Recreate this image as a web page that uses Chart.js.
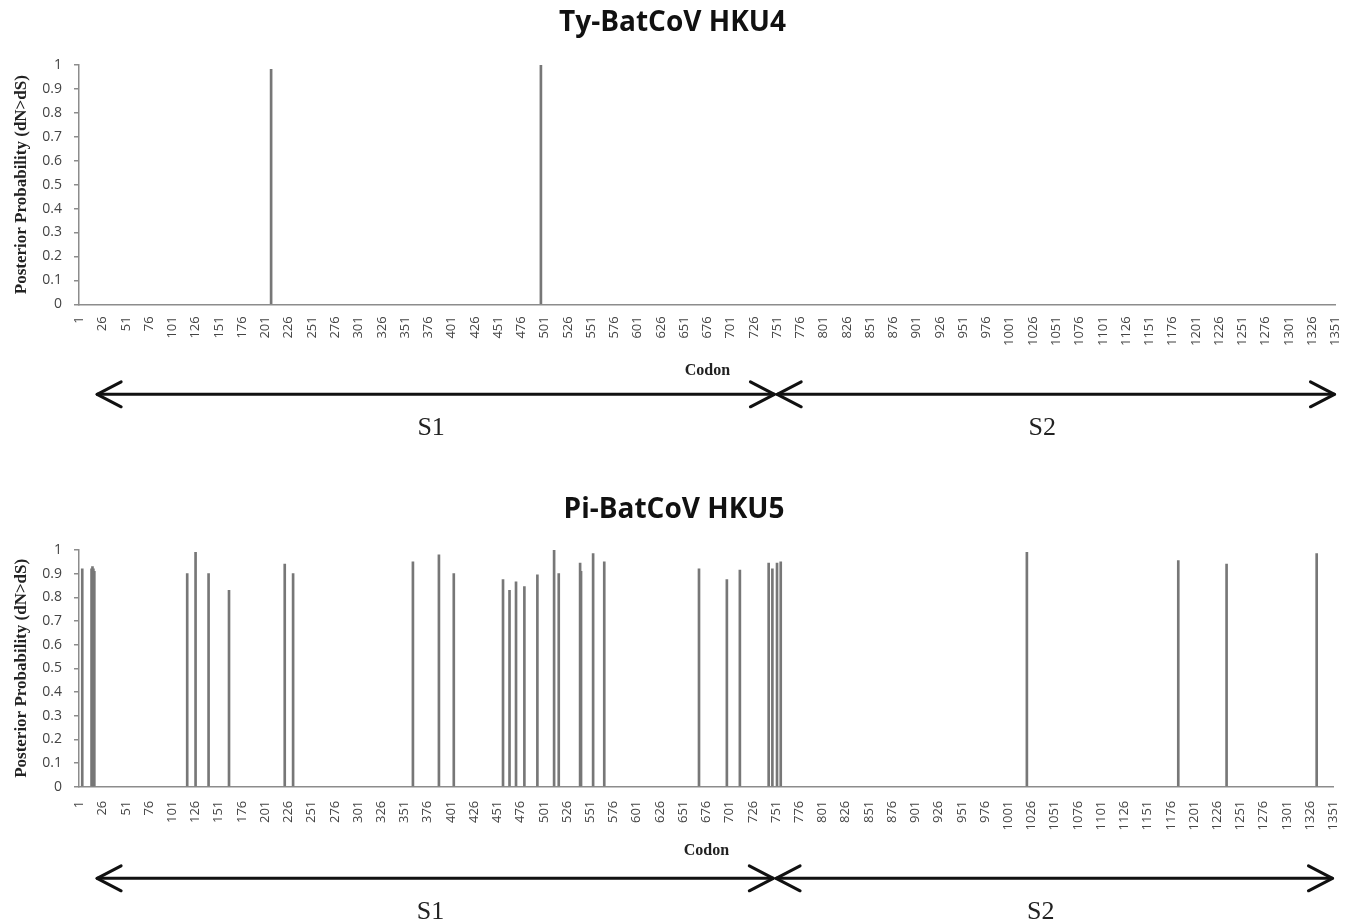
<!DOCTYPE html>
<html>
<head>
<meta charset="utf-8">
<script src="https://cdn.jsdelivr.net/npm/chart.js@4.4.1/dist/chart.umd.min.js"></script>
<style>
  html, body { margin: 0; padding: 0; background: #fff; overflow: hidden; }
  canvas { display: block; }
</style>
</head>
<body>
<canvas id="hku4-chart" width="1355" height="485"></canvas>
<canvas id="hku5-chart" width="1355" height="438"></canvas>
<script>
// codon axis: 1..1351, one category per codon, a label every 25th
const CODON_COUNT = 1351;
const codonLabels = Array.from({ length: CODON_COUNT }, (_, i) => String(i + 1));
const yTicks = [0, 0.1, 0.2, 0.3, 0.4, 0.5, 0.6, 0.7, 0.8, 0.9, 1];

// Ty-BatCoV HKU4 sites under positive selection
const hku4Codons = [207, 497];
const hku4Prob = [0.982, 1.0];

// Pi-BatCoV HKU5 sites under positive selection
const hku5Codons = [4, 14, 15, 16, 17, 117, 126, 140, 162, 222, 231, 360, 388, 404,
  457, 464, 471, 480, 494, 512, 517, 540, 541, 554, 566, 668, 698, 712,
  743, 747, 752, 756, 1021, 1184, 1236, 1333];
const hku5Prob = [0.92, 0.92, 0.93, 0.92, 0.91, 0.90, 0.99, 0.90, 0.83, 0.94, 0.90, 0.95, 0.98, 0.90,
  0.875, 0.83, 0.865, 0.845, 0.895, 1.0, 0.90, 0.945, 0.91, 0.985, 0.95, 0.92, 0.875, 0.915,
  0.945, 0.92, 0.945, 0.95, 0.99, 0.955, 0.94, 0.985];

// spike domains drawn as arrows under the axis
const domainNames = ["S1", "S2"];
const domainStart = [20, 751];
const domainEnd = [748, 1350];
const domainLabelAt = [379, 1036];

const AXIS_GREY = "#8c8c8c";
const TEXT_GREY = "#444444";

function toSeries(codons, probs) {
  const values = codonLabels.map(() => null);
  codons.forEach((codon, i) => {
    values[codon - 1] = probs[i];
  });
  return values;
}

function drawArrowHead(ctx, x, y, dir) {
  ctx.beginPath();
  ctx.moveTo(x - dir * 24, y - 12.5);
  ctx.lineTo(x, y);
  ctx.lineTo(x - dir * 24, y + 12.5);
  ctx.stroke();
}

function createDomainPlugin(arrowY, labelY) {
  return {
    id: "domain-arrows",
    afterDraw(chart) {
      const { ctx } = chart;
      const xScale = chart.scales.x;
      ctx.save();
      ctx.strokeStyle = "#111";
      ctx.lineWidth = 3;
      ctx.lineCap = "round";
      ctx.lineJoin = "round";
      domainNames.forEach((name, i) => {
        const x0 = xScale.getPixelForValue(domainStart[i] - 1);
        const x1 = xScale.getPixelForValue(domainEnd[i] - 1);
        ctx.beginPath();
        ctx.moveTo(x0, arrowY);
        ctx.lineTo(x1, arrowY);
        ctx.stroke();
        drawArrowHead(ctx, x0, arrowY, -1);
        drawArrowHead(ctx, x1, arrowY, 1);
        ctx.fillStyle = "#222";
        ctx.font = "26px 'Liberation Serif', 'Times New Roman', serif";
        ctx.textAlign = "center";
        ctx.textBaseline = "middle";
        ctx.fillText(name, xScale.getPixelForValue(domainLabelAt[i] - 1), labelY);
      });
      ctx.restore();
    },
  };
}

function buildChart(canvasId, title, codons, probs, layout) {
  return new Chart(document.getElementById(canvasId), {
    type: "bar",
    data: {
      labels: codonLabels,
      datasets: [
        {
          data: toSeries(codons, probs),
          backgroundColor: "#777777",
          barThickness: 2,
        },
      ],
    },
    options: {
      responsive: false,
      animation: false,
      layout: { padding: { left: 0, right: layout.rightPad, top: 0, bottom: layout.bottomPad } },
      plugins: {
        legend: { display: false },
        tooltip: { enabled: false },
        title: {
          display: true,
          text: title,
          color: "#111",
          font: { family: "'Open Sans', sans-serif", size: 28, weight: "bold" },
          padding: { top: layout.titleTop, bottom: layout.titleBottom },
        },
      },
      scales: {
        x: {
          grid: { display: false },
          border: { display: true, color: AXIS_GREY, width: 1.5 },
          ticks: {
            autoSkip: false,
            minRotation: 90,
            maxRotation: 90,
            padding: layout.tickPad,
            color: TEXT_GREY,
            font: { family: "'Open Sans', sans-serif", size: 13 },
            callback: (value, index) => (index % 25 === 0 ? codonLabels[index] : ""),
          },
          title: {
            display: true,
            text: "Codon",
            color: "#222",
            font: { family: "'Liberation Serif', 'Times New Roman', serif", size: 16, weight: "bold" },
            padding: { top: 0, bottom: layout.codonPad },
          },
          afterFit(scale) {
            scale.height = 80;
          },
        },
        y: {
          min: 0,
          max: 1,
          grid: { drawOnChartArea: false, drawTicks: true, tickLength: 5, color: AXIS_GREY, lineWidth: 1.5 },
          border: { display: true, color: AXIS_GREY, width: 1.5 },
          afterBuildTicks(scale) {
            scale.ticks = yTicks.map((value) => ({ value }));
          },
          ticks: {
            padding: 12,
            color: TEXT_GREY,
            font: { family: "'Open Sans', sans-serif", size: 14 },
            callback: (value) => String(Math.round(value * 10) / 10),
          },
          title: {
            display: true,
            text: "Posterior Probability (dN>dS)",
            color: "#222",
            font: { family: "'Liberation Serif', 'Times New Roman', serif", size: 17, weight: "bold" },
            padding: { top: 11, bottom: 0 },
          },
          afterFit(scale) {
            scale.width = 79;
          },
        },
      },
    },
    plugins: [createDomainPlugin(layout.arrowY, layout.labelY)],
  });
}

buildChart("hku4-chart", "Ty-BatCoV HKU4", hku4Codons, hku4Prob, {
  titleTop: 6,
  titleBottom: 25.4,
  rightPad: 10,
  bottomPad: 100.7,
  tickPad: 4,
  codonPad: 3.7,
  arrowY: 394.3,
  labelY: 428,
});

buildChart("hku5-chart", "Pi-BatCoV HKU5", hku5Codons, hku5Prob, {
  titleTop: 8,
  titleBottom: 23.4,
  rightPad: 7,
  bottomPad: 56.3,
  tickPad: 6,
  codonPad: 6,
  arrowY: 393.3,
  labelY: 426.7,
});
</script>
</body>
</html>
